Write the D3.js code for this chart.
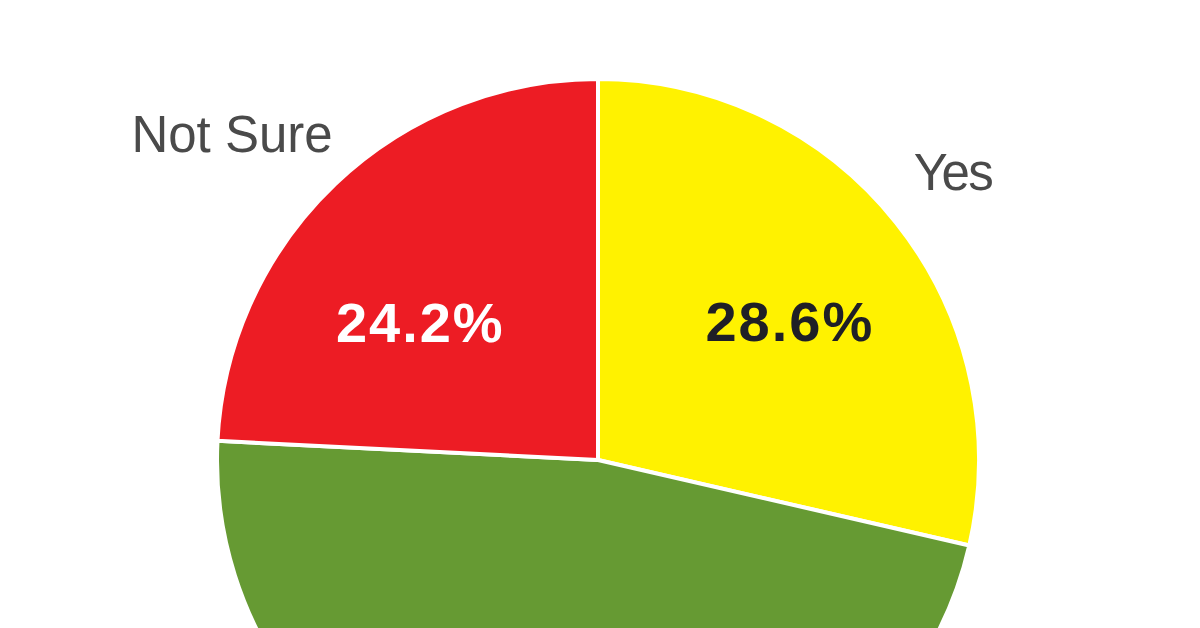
<!DOCTYPE html>
<html>
<head>
<meta charset="utf-8">
<script src="https://cdn.jsdelivr.net/npm/d3@7"></script>
<style>
  html, body { margin: 0; padding: 0; background: #ffffff; overflow: hidden; }
  svg { display: block; }
</style>
</head>
<body>
<svg id="chart" width="1200" height="628"></svg>
<script>
// Data
const categories = ["Yes", "No", "Not Sure"];
const values = [28.6, 47.2, 24.2];
const valueLabels = ["28.6%", "47.2%", "24.2%"];
const colors = ["#fff200", "#669a33", "#ed1c24"];
const valueTextColors = ["#1f1f26", "#ffffff", "#ffffff"];

const width = 1200, height = 628;
const cx = 598, cy = 460, r = 381;

const svg = d3.select("#chart");
const g = svg.append("g").attr("transform", `translate(${cx},${cy})`);

const pie = d3.pie().sort(null).value(d => d.value);
const arcs = pie(categories.map((c, i) => ({ cat: c, value: values[i], i })));

const arc = d3.arc().innerRadius(0).outerRadius(r);

g.selectAll("path.slice")
  .data(arcs)
  .join("path")
  .attr("class", "slice")
  .attr("d", arc)
  .attr("fill", d => colors[d.data.i])
  .attr("stroke", "#ffffff")
  .attr("stroke-width", 4)
  .attr("stroke-linejoin", "round");

// Value labels: only slices whose label falls inside the visible frame
const valueArc = d3.arc().innerRadius(226).outerRadius(226);
const valueShift = { "Yes": [ 15, 22 ], "Not Sure": [ -22, 46 ] };

arcs.forEach(d => {
  const cat = d.data.cat;
  const [vx, vy] = valueArc.centroid(d);
  if (cy + vy > height) return;
  const vs = valueShift[cat] || [0, 0];
  g.append("text")
    .attr("x", vx + vs[0])
    .attr("y", vy + vs[1])
    .attr("text-anchor", "middle")
    .attr("font-family", "Liberation Sans, Arial, Helvetica, sans-serif")
    .attr("font-weight", "bold")
    .attr("font-size", 56)
    .attr("letter-spacing", 2)
    .attr("fill", valueTextColors[d.data.i])
    .text(valueLabels[d.data.i]);
});

// Category names outside the pie
const namePos = {
  "Not Sure": { x: 232 - cx, y: 152 - cy, size: 51, ls: 0 },
  "Yes": { x: 953 - cx, y: 190 - cy, size: 51, ls: -1.5 }
};
arcs.forEach(d => {
  const cat = d.data.cat;
  const p = namePos[cat];
  if (!p) return;
  g.append("text")
    .attr("x", p.x)
    .attr("y", p.y)
    .attr("text-anchor", "middle")
    .attr("font-family", "Liberation Sans, Arial, Helvetica, sans-serif")
    .attr("font-size", p.size)
    .attr("letter-spacing", p.ls)
    .attr("fill", "#4a4a4a")
    .text(cat);
});
</script>
</body>
</html>
